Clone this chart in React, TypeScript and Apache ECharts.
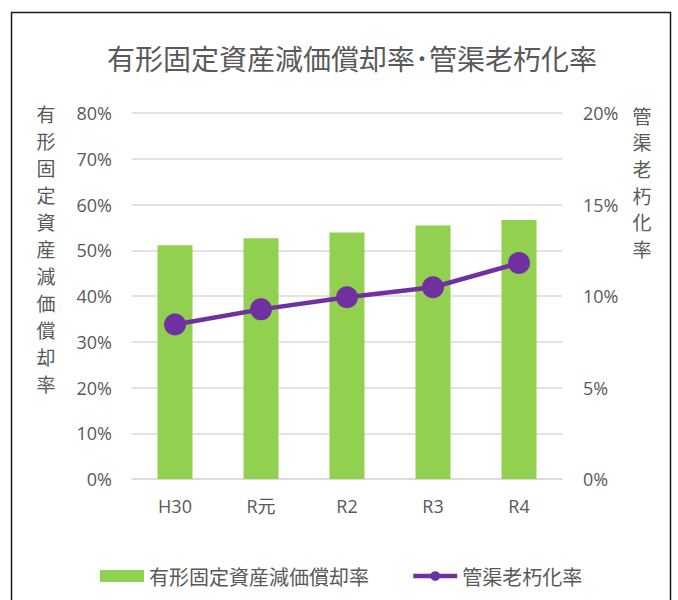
import React, { useEffect, useRef } from "react";
import * as echarts from "echarts";

const categories = ["H30", "R元", "R2", "R3", "R4"];
const depreciationRate = [51.1, 52.6, 53.9, 55.4, 56.6];
const pipeAgingRate = [8.44, 9.27, 9.93, 10.48, 11.8];
const titleText = "有形固定資産減価償却率･管渠老朽化率";
const seriesNames = ["有形固定資産減価償却率", "管渠老朽化率"];
const leftAxisName = "有形固定資産減価償却率";
const rightAxisName = "管渠老朽化率";

const TEXT = "#595959";
const GRID = "#d9d9d9";
const JP = "'Noto Sans CJK JP', sans-serif";
const NUM = "'Open Sans', 'Noto Sans CJK JP', sans-serif";

export default function App() {
  const ref = useRef<HTMLDivElement>(null);
  useEffect(() => {
    if (!ref.current) return;
    const chart = echarts.init(ref.current, null, { renderer: "svg" });
    chart.setOption({
      animation: false,
      backgroundColor: "#ffffff",
      legend: {
        left: 95,
        top: 561,
        itemWidth: 44,
        itemHeight: 12,
        itemGap: 42,
        textStyle: { fontFamily: JP, fontSize: 20, color: TEXT },
        data: [
          { name: seriesNames[0], icon: "rect" },
          { name: seriesNames[1], lineStyle: { width: 4.5 } },
        ],
      },
      grid: { left: 132, right: 116, top: 113, bottom: 121 },
      xAxis: {
        type: "category",
        data: categories,
        axisTick: { show: false },
        axisLine: { lineStyle: { color: GRID, width: 1.5 } },
        axisLabel: { color: TEXT, fontFamily: NUM, fontSize: 18, margin: 18 },
      },
      yAxis: [
        {
          type: "value",
          min: 0,
          max: 80,
          interval: 10,
          axisLine: { show: false },
          axisTick: { show: false },
          splitLine: { lineStyle: { color: GRID, width: 1.5 } },
          axisLabel: { color: TEXT, fontFamily: NUM, fontSize: 18, margin: 20, formatter: "{value}%" },
        },
        {
          type: "value",
          min: 0,
          max: 20,
          interval: 5,
          axisLine: { show: false },
          axisTick: { show: false },
          splitLine: { show: false },
          axisLabel: { color: TEXT, fontFamily: NUM, fontSize: 18, margin: 21, formatter: "{value}%" },
        },
      ],
      series: [
        {
          name: seriesNames[0],
          type: "bar",
          data: depreciationRate,
          barWidth: 35,
          itemStyle: { color: "#92D050" },
        },
        {
          name: seriesNames[1],
          type: "line",
          yAxisIndex: 1,
          data: pipeAgingRate,
          symbol: "circle",
          symbolSize: 22,
          lineStyle: { color: "#7030A0", width: 4.5 },
          itemStyle: { color: "#7030A0" },
        },
      ],
      graphic: [
        {
          type: "rect",
          shape: { x: 11.5, y: 12.5, width: 659, height: 620 },
          style: { fill: "none", stroke: "#1a1a1a", lineWidth: 1.5 },
          silent: true,
        },
        {
          type: "text",
          x: 352,
          y: 58,
          style: {
            text: titleText,
            fontFamily: JP,
            fontSize: 28,
            fill: TEXT,
            align: "center",
            verticalAlign: "middle",
          },
        },
        {
          type: "text",
          x: 46,
          y: 100,
          style: {
            text: leftAxisName.split("").join("\n"),
            fontFamily: JP,
            fontSize: 19,
            lineHeight: 27,
            fill: TEXT,
            align: "center",
            verticalAlign: "top",
          },
        },
        {
          type: "text",
          x: 642,
          y: 102,
          style: {
            text: rightAxisName.split("").join("\n"),
            fontFamily: JP,
            fontSize: 19,
            lineHeight: 26.6,
            fill: TEXT,
            align: "center",
            verticalAlign: "top",
          },
        },
      ],
    });
    return () => chart.dispose();
  }, []);
  return (
    <div
      ref={ref}
      style={{ position: "absolute", left: 0, top: 0, width: 678, height: 600 }}
    />
  );
}
